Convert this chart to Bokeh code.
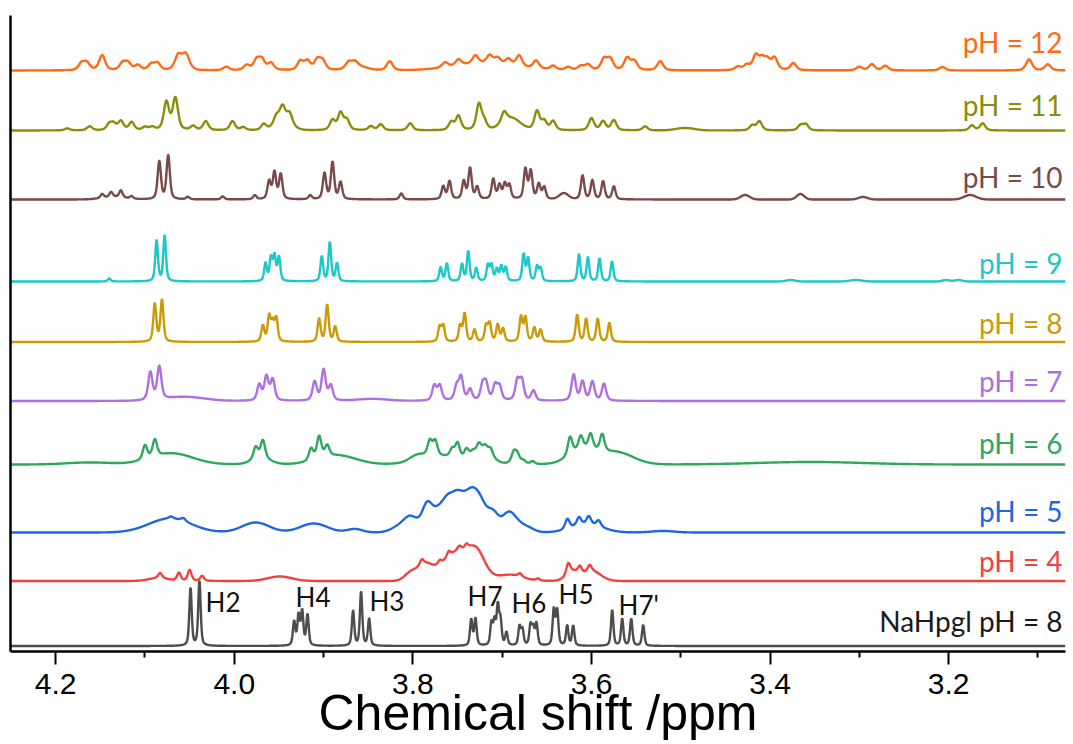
import numpy as np
from bokeh.plotting import figure
from bokeh.models import Range1d, FixedTicker, Label
from bokeh.embed import file_html
from bokeh.resources import INLINE

# ---------------- axis values ----------------
ppm_left, ppm_right = 4.2506, 3.0692
major_ticks = [4.2, 4.0, 3.8, 3.6, 3.4, 3.2]
minor_ticks = [4.1, 3.9, 3.7, 3.5, 3.3, 3.1]
tick_labels = ["4.2", "4.0", "3.8", "3.6", "3.4", "3.2"]
x_title = "Chemical shift /ppm"

# ---------------- spectra: (shift ppm, intensity) narrow peaks, (shift, intensity, half width) broad bands ----------------
nahpgl_peaks = [(4.049, 58), (4.039, 65), (3.933, 24), (3.928, 30), (3.924, 34), (3.918, 31),
                (3.867, 35), (3.858, 54), (3.849, 27), (3.7347, 26), (3.7299, 27), (3.7120, 22),
                (3.7086, 23), (3.7049, 38), (3.7019, 24), (3.6952, 13), (3.6806, 19), (3.6773, 16),
                (3.6683, 20), (3.6653, 17), (3.6616, 22), (3.6422, 36), (3.6384, 35), (3.6272, 20),
                (3.6205, 20), (3.5768, 36), (3.5656, 27), (3.5555, 27), (3.5421, 21)]
nahpgl_bands = []

ph4_peaks = [(4.083, 5), (4.062, 8), (4.050, 11), (4.036, 5), (3.790, 5), (3.770, 4), (3.760, 5),
             (3.748, 4), (3.740, 4), (3.680, 3), (3.660, 2), (3.626, 10), (3.613, 7), (3.602, 6)]
ph4_bands = [(4.085, 3, 0.012), (3.949, 4.5, 0.016), (3.803, 7, 0.008), (3.787, 14, 0.010),
             (3.748, 30, 0.022), (3.728, 16, 0.010), (3.690, 6, 0.016), (3.622, 9, 0.008),
             (3.600, 10, 0.012)]

ph5_peaks = [(4.071, 2), (4.057, 3), (3.627, 10), (3.614, 8), (3.603, 8), (3.592, 6)]
ph5_bands = [(4.072, 14, 0.028), (3.976, 10, 0.018), (3.911, 9, 0.018), (3.865, 3.5, 0.010),
             (3.755, 24, 0.032), (3.815, 5, 0.010), (3.803, 10, 0.008), (3.784, 17, 0.006),
             (3.772, 5, 0.006), (3.762, 10, 0.006), (3.750, 17, 0.008), (3.737, 12, 0.007),
             (3.727, 24, 0.009), (3.710, 14, 0.007), (3.693, 17, 0.008), (3.682, 7, 0.008),
             (3.670, 4, 0.008), (3.605, 8, 0.020), (3.520, 1.5, 0.015)]

ph6_peaks = [(4.100, 14), (4.089, 17), (3.976, 12), (3.968, 18), (3.914, 12), (3.905, 22),
             (3.896, 11), (3.781, 15), (3.775, 15), (3.756, 8), (3.750, 15), (3.740, 9),
             (3.733, 4), (3.726, 8), (3.719, 6), (3.713, 7), (3.687, 9), (3.683, 7), (3.676, 3),
             (3.666, 3), (3.624, 18), (3.612, 13), (3.601, 15), (3.588, 17)]
ph6_bands = [(4.162, 2, 0.03), (4.070, 11, 0.028), (3.970, 6, 0.012), (3.885, 9, 0.025),
             (3.770, 8, 0.028), (3.795, 5, 0.010), (3.722, 12, 0.012), (3.685, 3, 0.006),
             (3.610, 14, 0.018), (3.572, 12, 0.022), (3.355, 2.5, 0.07)]

ph7_peaks = [(4.094, 28), (4.084, 33), (3.972, 16), (3.964, 24), (3.957, 21), (3.910, 19),
             (3.900, 31), (3.892, 15), (3.776, 15), (3.770, 15), (3.751, 14), (3.746, 23),
             (3.736, 11), (3.722, 15), (3.718, 16), (3.708, 15), (3.703, 14), (3.683, 20),
             (3.678, 20), (3.665, 10), (3.620, 26), (3.610, 19), (3.599, 19), (3.586, 17)]
ph7_bands = [(4.055, 4, 0.025), (3.845, 2, 0.02)]

ph8_peaks = [(4.089, 38), (4.081, 42), (3.968, 16), (3.961, 25), (3.957, 18), (3.953, 23),
             (3.905, 23), (3.896, 37), (3.887, 15), (3.770, 15), (3.766, 16), (3.747, 16),
             (3.742, 28), (3.731, 12), (3.718, 16), (3.714, 18), (3.705, 17), (3.699, 13),
             (3.679, 25), (3.674, 24), (3.664, 14), (3.657, 12), (3.616, 27), (3.606, 23),
             (3.593, 23), (3.580, 19)]
ph8_bands = []

ph9_peaks = [(4.140, 3), (4.087, 41), (4.078, 46), (3.965, 18), (3.959, 23), (3.955, 25),
             (3.950, 24), (3.902, 25), (3.893, 39), (3.885, 18), (3.769, 14), (3.762, 18),
             (3.745, 17), (3.738, 30), (3.729, 13), (3.716, 16), (3.712, 16), (3.706, 12),
             (3.701, 15), (3.696, 14), (3.676, 27), (3.671, 23), (3.661, 15), (3.657, 13),
             (3.614, 27), (3.604, 24), (3.591, 23), (3.577, 20)]
ph9_bands = [(3.377, 1.5, 0.006), (3.304, 1.5, 0.008), (3.203, 1.5, 0.005), (3.189, 1.5, 0.005)]

ph10_peaks = [(4.148, 4), (4.138, 5), (4.127, 7), (4.115, 2.5), (4.084, 38), (4.074, 44),
              (4.052, 2.5), (4.013, 3), (3.977, 4), (3.961, 18), (3.955, 27), (3.948, 25),
              (3.915, 4), (3.899, 26), (3.890, 37), (3.881, 17), (3.813, 6), (3.766, 13),
              (3.759, 18), (3.743, 18), (3.736, 31), (3.728, 12), (3.710, 20), (3.703, 14),
              (3.697, 15), (3.692, 14), (3.674, 30), (3.668, 28), (3.659, 15), (3.653, 12),
              (3.610, 24), (3.599, 19), (3.587, 18), (3.575, 13)]
ph10_bands = [(4.135, 2.5, 0.015), (3.631, 6, 0.006), (3.428, 4.5, 0.006), (3.366, 5.5, 0.005),
              (3.296, 2.5, 0.006), (3.176, 4.5, 0.008)]

ph11_peaks = [(4.187, 2), (4.162, 4), (4.140, 6), (4.135, 6), (4.127, 9), (4.115, 8),
              (4.100, 3), (4.092, 3), (4.076, 28), (4.066, 32), (4.046, 4), (4.032, 9),
              (4.002, 9), (3.990, 3), (3.967, 6), (3.953, 8), (3.946, 14), (3.938, 10),
              (3.890, 10), (3.881, 17), (3.874, 10), (3.847, 4), (3.836, 6), (3.803, 7),
              (3.757, 8), (3.749, 14), (3.726, 26), (3.720, 8), (3.698, 10), (3.661, 19),
              (3.653, 9), (3.643, 9), (3.600, 12), (3.587, 9), (3.575, 10), (3.540, 4),
              (3.420, 5), (3.412, 9), (3.366, 5), (3.360, 6), (3.174, 5), (3.162, 7)]
ph11_bands = [(3.945, 10, 0.010), (3.690, 12, 0.012), (3.495, 2.5, 0.012)]

ph12_peaks = [(4.171, 7), (4.165, 7), (4.148, 15), (4.125, 7), (4.119, 7), (4.108, 5),
              (4.093, 6), (4.086, 7), (4.063, 9), (4.054, 9), (4.009, 3.5), (3.986, 5),
              (3.975, 10), (3.969, 10), (3.959, 7), (3.926, 9), (3.918, 9), (3.907, 10),
              (3.901, 9), (3.872, 6), (3.865, 5), (3.826, 9), (3.764, 5), (3.749, 6),
              (3.730, 8), (3.714, 8), (3.705, 6), (3.693, 6), (3.681, 11), (3.662, 8),
              (3.643, 4), (3.626, 3), (3.612, 4), (3.604, 5.5), (3.586, 11), (3.579, 11),
              (3.560, 12), (3.552, 9), (3.523, 9), (3.436, 3.5), (3.426, 5), (3.416, 14),
              (3.409, 10), (3.403, 9), (3.395, 12), (3.374, 7), (3.300, 3.5), (3.286, 6),
              (3.271, 4.5), (3.207, 3.5), (3.110, 11), (3.089, 6)]
ph12_bands = [(4.058, 9, 0.008), (3.862, 4, 0.012), (3.720, 7, 0.040)]

# ---------------- series list (top to bottom) ----------------
labels = ["pH = 12", "pH = 11", "pH = 10", "pH = 9", "pH = 8", "pH = 7", "pH = 6",
          "pH = 5", "pH = 4", "NaHpgl pH = 8"]
peak_sets = [ph12_peaks, ph11_peaks, ph10_peaks, ph9_peaks, ph8_peaks, ph7_peaks,
             ph6_peaks, ph5_peaks, ph4_peaks, nahpgl_peaks]
band_sets = [ph12_bands, ph11_bands, ph10_bands, ph9_bands, ph8_bands, ph7_bands,
             ph6_bands, ph5_bands, ph4_bands, nahpgl_bands]
line_halfwidths = [0.004, 0.0035, 0.0022, 0.0018, 0.0020, 0.0028, 0.003, 0.003, 0.0025, 0.0016]

# ---------------- layout / style ----------------
offsets = [581, 521, 452, 370, 309.5, 250.5, 187, 119, 70.5, 5.5]
label_y = [610, 547, 475, 389, 329, 271, 209, 141, 91, 31]
colors = ["#FF6A13", "#8C8C0A", "#7A4A4A", "#1CC8C8", "#CC9A06", "#B06FE0", "#2EA85E",
          "#1F67E0", "#F2403F", "#4D4D4D"]
label_colors = colors[:-1] + ["#1A1A1A"]

assign_names = ["H2", "H4", "H3", "H7", "H6", "H5", "H7'"]
assign_x = [4.0322, 3.9314, 3.8486, 3.7388, 3.6896, 3.6369, 3.5697]
assign_y = [50, 55, 51, 56, 49, 58, 47]

x = np.linspace(ppm_right, ppm_left, 2600)


def peak_shape(x, c, h, w):
    d = ((x - c) / w) ** 2
    return h * (0.5 * np.exp(-np.log(2) * d) + 0.5 / (1 + d))


def band_shape(x, c, h, w):
    return h * np.exp(-np.log(2) * ((x - c) / w) ** 2)


p = figure(width=1073, height=744, x_range=Range1d(ppm_left, ppm_right),
           y_range=Range1d(0, 636), output_backend="svg", toolbar_location=None,
           min_border_left=10, min_border_right=8, min_border_top=15, min_border_bottom=93)
p.outline_line_color = None
p.grid.visible = False
p.background_fill_color = "white"
p.border_fill_color = "white"

for pk, bd, w, off, col in zip(peak_sets, band_sets, line_halfwidths, offsets, colors):
    y = np.full_like(x, float(off))
    for c, h in pk:
        y += peak_shape(x, c, h, w)
    for c, h, bw in bd:
        y += band_shape(x, c, h, bw)
    p.line(x, y, line_color=col, line_width=2.4)

font_lbl = "Lato"
for txt, ly, col in zip(labels, label_y, label_colors):
    p.add_layout(Label(x=3.0725, y=ly, text=txt, text_align="right", text_baseline="middle",
                       text_color=col, text_font=font_lbl, text_font_size="28px"))

for txt, ax, ay in zip(assign_names, assign_x, assign_y):
    p.add_layout(Label(x=ax, y=ay, text=txt, text_align="left", text_baseline="middle",
                       text_color="#111111", text_font=font_lbl, text_font_size="26px"))

xa = p.xaxis[0]
xa.ticker = FixedTicker(ticks=major_ticks, minor_ticks=minor_ticks)
xa.major_label_overrides = dict(zip(major_ticks, tick_labels))
xa.axis_line_width = 2.5
xa.axis_line_color = "black"
xa.major_tick_out = 13
xa.major_tick_in = 0
xa.minor_tick_out = 6
xa.minor_tick_in = 0
xa.major_tick_line_width = 2
xa.minor_tick_line_width = 2
xa.major_tick_line_color = "black"
xa.minor_tick_line_color = "black"
xa.major_label_text_font = "Liberation Sans"
xa.major_label_text_font_size = "30px"
xa.major_label_text_color = "black"
xa.major_label_standoff = 9
xa.axis_label = x_title
xa.axis_label_text_font = "Liberation Sans"
xa.axis_label_text_font_size = "50px"
xa.axis_label_text_font_style = "normal"
xa.axis_label_text_color = "black"
xa.axis_label_standoff = -12

ya = p.yaxis[0]
ya.ticker = FixedTicker(ticks=[])
ya.axis_line_width = 2.5
ya.axis_line_color = "black"
ya.major_tick_out = 0
ya.major_tick_in = 0
ya.minor_tick_out = 0
ya.minor_tick_in = 0
ya.major_label_text_font_size = "0px"

open("out.html", "w").write(file_html(p, INLINE))
